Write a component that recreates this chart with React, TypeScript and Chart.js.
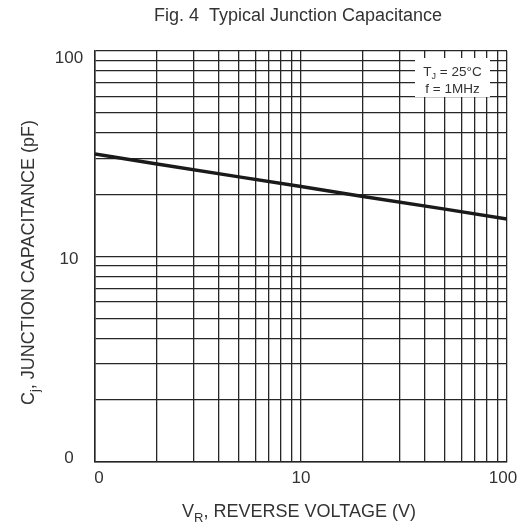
import React, { useEffect, useRef } from "react";
import { Chart, registerables } from "chart.js";

Chart.register(...registerables);

// ---- data ----
const reverseVoltage = [1, 2, 5, 10, 20, 50, 100];
const junctionCap = [31.5, 28.2, 24.4, 21.9, 19.6, 17.0, 15.2];

const xGridValues = [1, 2, 3, 4, 5, 6, 7, 8, 9, 10, 20, 30, 40, 50, 60, 70, 80, 90, 100];
const yGridValues = [1, 2, 3, 4, 5, 6, 7, 8, 9, 10, 20, 30, 40, 50, 60, 70, 80, 90, 100];

const xTickValues = [1, 10, 100];
const xTickLabels = ["0", "10", "100"];
const yTickValues = [1, 10, 100];
const yTickLabels = ["0", "10", "100"];

const chartTitle = "Fig. 4  Typical Junction Capacitance";
const noteLine1 = ["T", "J", " = 25°C"];
const noteLine2 = "f = 1MHz";
const xTitleParts = ["V", "R", ", REVERSE VOLTAGE (V)"];
const yTitleParts = ["C", "j", ", JUNCTION CAPACITANCE (pF)"];

const FONT = '"Liberation Sans", Arial, Helvetica, sans-serif';
const TEXT = "#333333";
const GRID = "#262626";

function drawSubText(
  ctx: CanvasRenderingContext2D,
  parts: string[],
  cx: number,
  baseY: number,
  size: number,
  subSize: number,
  subDrop: number
) {
  ctx.font = `${size}px ${FONT}`;
  const w0 = ctx.measureText(parts[0]).width;
  const w2 = ctx.measureText(parts[2]).width;
  ctx.font = `${subSize}px ${FONT}`;
  const w1 = ctx.measureText(parts[1]).width;
  const total = w0 + w1 + w2;
  let x = cx - total / 2;
  ctx.textAlign = "left";
  ctx.textBaseline = "alphabetic";
  ctx.font = `${size}px ${FONT}`;
  ctx.fillText(parts[0], x, baseY);
  x += w0;
  ctx.font = `${subSize}px ${FONT}`;
  ctx.fillText(parts[1], x, baseY + subDrop);
  x += w1;
  ctx.font = `${size}px ${FONT}`;
  ctx.fillText(parts[2], x, baseY);
}

const textPlugin = {
  id: "datasheetText",
  afterDraw(chart: any) {
    const ctx: CanvasRenderingContext2D = chart.ctx;
    const area = chart.chartArea;
    const xs = chart.scales.x;
    const ys = chart.scales.y;
    ctx.save();
    ctx.fillStyle = TEXT;

    // title
    ctx.font = `18px ${FONT}`;
    ctx.textAlign = "center";
    ctx.textBaseline = "alphabetic";
    ctx.fillText(chartTitle, (area.left + area.right) / 2 - 3, 13);

    // y tick labels
    ctx.font = `17px ${FONT}`;
    ctx.textAlign = "center";
    yTickValues.forEach((v, i) => {
      const p = ys.getPixelForValue(v);
      const y = Math.min(Math.max(p + 7, area.top + 12), area.bottom + 1);
      ctx.fillText(yTickLabels[i], area.left - 26, y);
    });

    // x tick labels
    xTickValues.forEach((v, i) => {
      const p = xs.getPixelForValue(v);
      const x = Math.min(Math.max(p, area.left + 4), area.right - 4);
      ctx.fillText(xTickLabels[i], x, area.bottom + 21);
    });

    // x axis title
    drawSubText(ctx, xTitleParts, (area.left + area.right) / 2 - 2, area.bottom + 55, 18, 13, 5);

    // y axis title
    ctx.save();
    ctx.translate(26, (area.top + area.bottom) / 2 + 6);
    ctx.rotate(-Math.PI / 2);
    drawSubText(ctx, yTitleParts, 0, 0, 18, 13, 5);
    ctx.restore();

    // condition note box
    const bx0 = area.right - 92;
    const bx1 = area.right - 17;
    const by0 = area.top + 7;
    const by1 = area.top + 46;
    ctx.fillStyle = "#ffffff";
    ctx.fillRect(bx0, by0, bx1 - bx0, by1 - by0);
    ctx.fillStyle = TEXT;
    const ncx = (bx0 + bx1) / 2;
    drawSubText(ctx, noteLine1, ncx, area.top + 25, 13.5, 9, 3);
    ctx.font = `13.5px ${FONT}`;
    ctx.textAlign = "center";
    ctx.fillText(noteLine2, ncx, area.top + 41.5);

    ctx.restore();
  },
};

export default function App() {
  const ref = useRef<HTMLCanvasElement | null>(null);

  useEffect(() => {
    if (!ref.current) return;
    const chart = new Chart(ref.current, {
      type: "line",
      data: {
        datasets: [
          {
            data: reverseVoltage.map((v, i) => ({ x: v, y: junctionCap[i] })),
            borderColor: "#1a1a1a",
            borderWidth: 3.5,
            pointRadius: 0,
            tension: 0,
            fill: false,
          },
        ],
      },
      options: {
        animation: false,
        responsive: true,
        maintainAspectRatio: false,
        layout: { padding: { left: 87, top: 43, right: 16, bottom: 63 } },
        plugins: {
          legend: { display: false },
          tooltip: { enabled: false },
          title: { display: false },
        },
        scales: {
          x: {
            type: "logarithmic",
            min: 1,
            max: 100,
            afterBuildTicks: (axis: any) => {
              axis.ticks = xGridValues.map((v) => ({ value: v }));
            },
            ticks: { display: false },
            grid: { color: GRID, lineWidth: 1.3, drawTicks: false },
            border: { display: true, color: GRID, width: 1.5 },
          },
          y: {
            type: "logarithmic",
            min: 1,
            max: 100,
            afterBuildTicks: (axis: any) => {
              axis.ticks = yGridValues.map((v) => ({ value: v }));
            },
            ticks: { display: false },
            grid: { color: GRID, lineWidth: 1.3, drawTicks: false },
            border: { display: true, color: GRID, width: 1.5 },
          },
        },
      },
      plugins: [textPlugin],
    });
    return () => chart.destroy();
  }, []);

  return (
    <div style={{ position: "absolute", left: 8, top: 8, width: 515, height: 517 }}>
      <canvas ref={ref} />
    </div>
  );
}
